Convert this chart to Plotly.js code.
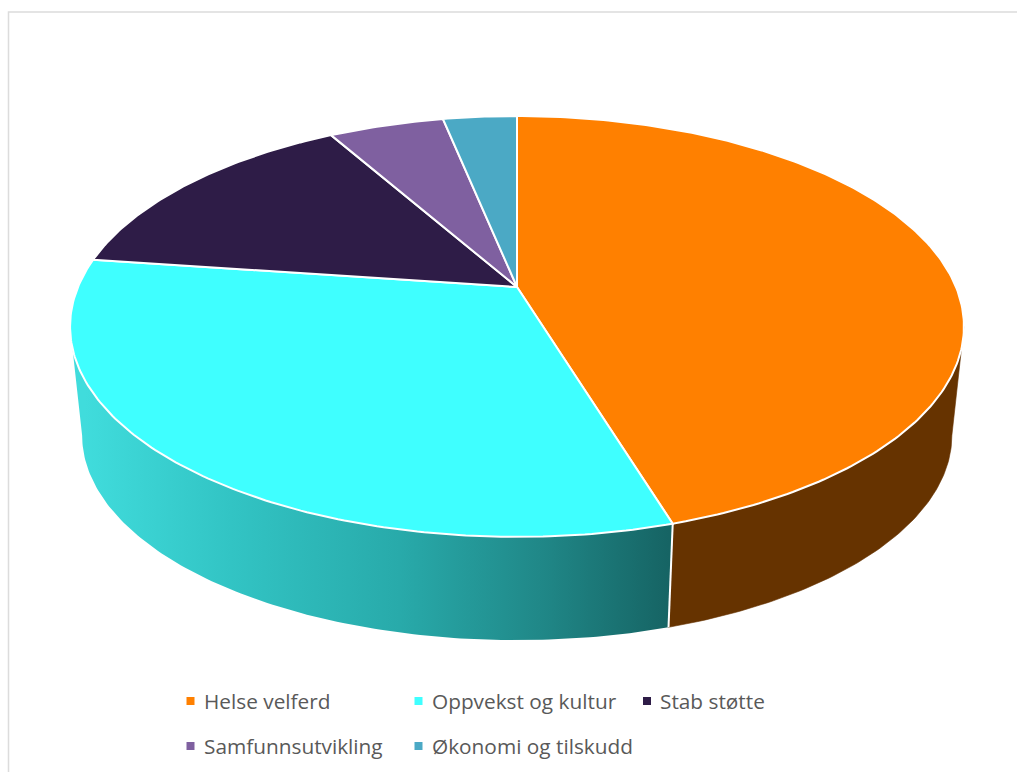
<!DOCTYPE html>
<html>
<head>
<meta charset="utf-8">
<script src="https://cdn.plot.ly/plotly-3.0.1.min.js"></script>
<style>html,body{margin:0;padding:0;background:#fff;overflow:hidden}</style>
</head>
<body>
<div id="chart" style="width:1017px;height:772px"></div>
<script>
// Budget shares per sector, in percent
const categories = ["Helse velferd", "Oppvekst og kultur", "Stab støtte", "Samfunnsutvikling", "Økonomi og tilskudd"];
const shares = [45.3, 31.9, 14.6, 5.0, 3.2];
const topColors = ["#ff8000", "#3fffff", "#2e1c47", "#7f60a0", "#4ba9c5"];

// Perspective disc: apex position, radii and depth of the lower rim
const W = 1017, H = 772;
const cx = 517, topY = 287, bottomY = 397;
const radiusX = 439, radiusY = 203, perspective = 0.1876, lowerScale = 0.973;

function project(deg, radial, y0, scale) {
  const t = deg * Math.PI / 180;
  const u = radial * Math.sin(t), v = -radial * Math.cos(t);
  const w = 1 - perspective * v;
  return [cx + scale * radiusX * u / w, y0 + scale * radiusY * v / w];
}

function arc(a0, a1, y0, scale) {
  const n = Math.max(2, Math.ceil(Math.abs(a1 - a0) / 0.75));
  const pts = [];
  for (let i = 0; i <= n; i++) pts.push(project(a0 + (a1 - a0) * i / n, 1, y0, scale));
  return pts;
}

function poly(pts, fill, lineColor, lineWidth) {
  return {
    type: "scatter", mode: "lines", showlegend: false, hoverinfo: "skip",
    x: pts.map(p => p[0]), y: pts.map(p => p[1]),
    fill: "toself", fillcolor: fill,
    line: { color: lineColor, width: lineWidth }
  };
}

const traces = [];
const total = shares.reduce((a, b) => a + b, 0);
const edges = [0];
shares.forEach(s => edges.push(edges[edges.length - 1] + s * 360 / total));

// The disc is widest at this angle, where the wall turns away from the viewer
const silhouetteDeg = Math.acos(-perspective) * 180 / Math.PI;

// Wall outline: lower rim plus the two upper corners, closed through the apex.
// The top face painted afterwards hides everything inside the upper rim.
function wall(a0, a1) {
  const pts = [[cx, topY], project(a0, 1, topY, 1)];
  return pts.concat(arc(a0, a1, bottomY, lowerScale), [project(a1, 1, topY, 1), [cx, topY]]);
}

// Outer wall of the first sector: flat brown
traces.push(poly(wall(silhouetteDeg, edges[1]), "#663300", "#663300", 0.6));

// Outer wall of the second sector: teal shading that darkens toward the right
const wallStops = [[0, "rgb(64,220,220)"], [0.25, "rgb(50,196,196)"], [0.54, "rgb(40,170,170)"], [0.78, "rgb(32,136,136)"], [1, "rgb(22,100,100)"]];
const tealWall = poly(wall(edges[1], 360 - silhouetteDeg), "rgba(0,0,0,0)", "rgba(0,0,0,0)", 0);
tealWall.fillgradient = { type: "horizontal", colorscale: wallStops, start: 85, stop: 668 };
traces.push(tealWall);

// Seam between the two walls
const seamTop = project(edges[1], 1, topY, 1), seamBottom = project(edges[1], 1, bottomY, lowerScale);
traces.push({
  type: "scatter", mode: "lines", showlegend: false, hoverinfo: "skip",
  x: [seamTop[0], seamBottom[0]], y: [seamTop[1], seamBottom[1]],
  line: { color: "#ffffff", width: 2 }
});

// Top face of every sector
categories.forEach((name, i) => {
  const pts = [[cx, topY]].concat(arc(edges[i], edges[i + 1], topY, 1));
  pts.push([cx, topY]);
  const tr = poly(pts, topColors[i], "#ffffff", 2);
  tr.name = name;
  traces.push(tr);
});

// Legend swatches and labels, laid out in two rows
const legendCols = [190.5, 418.5, 647, 190.5, 418.5];
const legendRows = [701, 701, 701, 746, 746];
const legendTextGap = 11;
traces.push({
  type: "scatter", mode: "markers", showlegend: false, hoverinfo: "skip",
  x: legendCols, y: legendRows,
  marker: { symbol: "square", size: 8, color: topColors }
});
const annotations = categories.map((name, i) => ({
  x: legendCols[i] + legendTextGap, y: legendRows[i], xref: "x", yref: "y",
  xanchor: "left", yanchor: "middle", showarrow: false, text: name,
  font: { family: "Open Sans, sans-serif", size: 20.8, color: "#595959" }
}));

const layout = {
  width: W, height: H,
  margin: { l: 0, r: 0, t: 0, b: 0 },
  paper_bgcolor: "#ffffff", plot_bgcolor: "#ffffff",
  showlegend: false,
  xaxis: { range: [0, W], visible: false, fixedrange: true },
  yaxis: { range: [H, 0], visible: false, fixedrange: true },
  annotations: annotations,
  // Thin frame around the chart area, open past the right and lower edges
  shapes: [{ type: "rect", xref: "x", yref: "y", x0: 8.5, y0: 12, x1: W + 10, y1: H + 10, line: { color: "#dcdcdc", width: 1.5 }, layer: "below" }]
};

Plotly.newPlot("chart", traces, layout, { displayModeBar: false, staticPlot: true });
</script>
</body>
</html>
